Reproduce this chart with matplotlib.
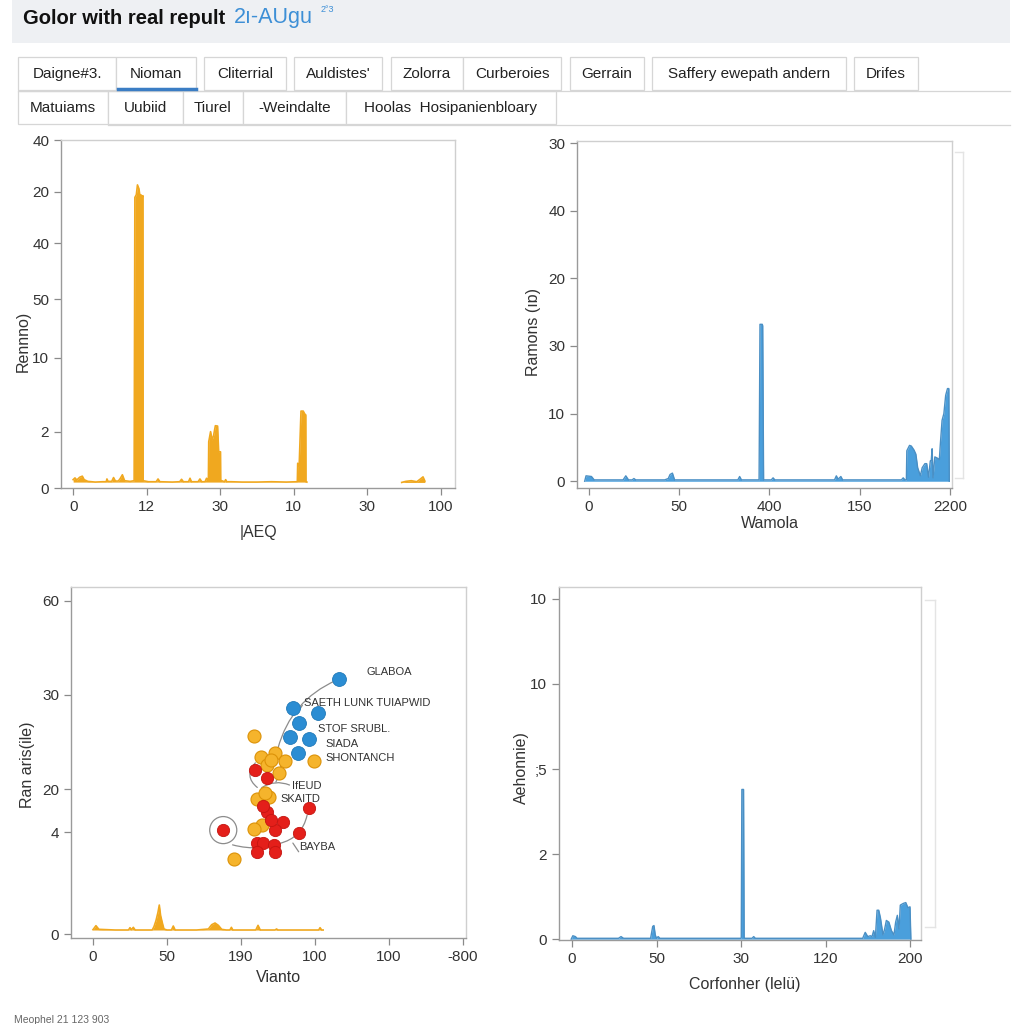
import matplotlib
matplotlib.use("Agg")
import matplotlib.pyplot as plt
from matplotlib.patches import Rectangle
from matplotlib.lines import Line2D

plt.rcParams['font.family'] = ['Liberation Sans', 'DejaVu Sans']

# ---------------- data ----------------
title_main = "Golor with real repult"
title_blue = "2ı-AUgu"
title_sup = "2°3"
tabs_row1 = ["Daigne#3.", "Nioman", "Cliterrial", "Auldistes'", "Zolorra",
             "Curberoies", "Gerrain", "Saffery ewepath andern", "Drifes"]
tabs_row2 = ["Matuiams", "Uubiid", "Tiurel", "-Weindalte", "Hoolas  Hosipanienbloary"]
footer = "Meophel 21 123 903"

# panel 1 (orange spectrum)
p1_xticklabels = ['0', '12', '30', '10', '30', '100']
p1_xtickpos = [0, 20, 40, 60, 80, 100]
p1_yticklabels = ['0', '2', '10', '50', '40', '20', '40']
p1_ytickpos = [0, 16.1, 37.4, 54.3, 70.4, 85.1, 100]
p1_x = [0.0, 0.5, 1.0, 1.8, 2.5, 3.0, 4.0, 6.0, 8.0, 9.0, 9.2, 9.5, 10.5, 11.0,
        11.5, 12.3, 12.8, 13.4, 14.0, 15.5, 16.6, 16.8, 17.2, 17.5, 17.9, 18.2,
        18.5, 18.8, 19.0, 19.05, 20.5, 22.6, 23.1, 23.6, 27.0, 29.0, 29.5, 30.0,
        31.4, 31.8, 32.2, 34.0, 34.5, 35.0, 35.9, 36.3, 36.8, 36.9, 37.4, 37.8,
        38.2, 38.7, 39.3, 39.6, 40.1, 40.15, 41.2, 41.5, 41.8, 43.0, 46.0, 50.0,
        54.0, 58.0, 61.0, 61.1, 61.5, 62.0, 62.6, 63.0, 63.3, 63.35, 63.6]
p1_y = [2.4, 2.9, 2.3, 3.1, 3.4, 2.4, 1.9, 1.7, 1.8, 1.8, 2.6, 1.9, 1.9, 3.0,
        2.0, 2.0, 2.7, 3.8, 2.1, 1.9, 2.1, 83.5, 84.3, 87.1, 86.0, 83.8,
        84.2, 83.6, 84.0, 2.1, 1.8, 1.8, 2.6, 1.8, 1.7, 1.8, 2.5, 1.8,
        1.8, 2.8, 1.8, 1.8, 2.6, 1.8, 1.8, 2.8, 2.2, 13.3, 16.2, 13.8,
        15.0, 17.9, 17.8, 10.4, 10.4, 2.2, 1.8, 2.4, 1.8, 1.8, 1.7, 1.7,
        1.8, 1.7, 1.8, 7.1, 6.3, 22.1, 22.1, 21.3, 21.0, 1.8, 1.7]
p1b_x = [89.4, 90.5, 92.0, 93.5, 94.5, 95.2, 95.7]
p1b_y = [1.6, 1.9, 2.1, 1.8, 2.6, 3.2, 2.0]

# panel 2 (blue spectrum)
p2_xticklabels = ['0', '50', '400', '150', '2200']
p2_yticklabels = ['0', '10', '30', '20', '40', '30']
p2_x = [-0.045, -0.03, 0.03, 0.06, 0.38, 0.41, 0.44, 0.48, 0.5, 0.52, 0.84,
        0.88, 0.9, 0.926, 0.95, 1.60, 1.65, 1.67, 1.69, 1.885, 1.895, 1.9,
        1.92, 1.925, 1.935, 2.02, 2.04, 2.06, 2.72, 2.74, 2.76, 2.79, 2.81,
        2.83, 3.46, 3.48, 3.50, 3.515, 3.52, 3.55, 3.57, 3.6, 3.62, 3.64, 3.67,
        3.69, 3.70, 3.72, 3.74, 3.76, 3.78, 3.79, 3.80, 3.81, 3.83, 3.86, 3.88,
        3.89, 3.91, 3.93, 3.95, 3.97, 3.985, 3.99]
p2_y = [0.0, 0.08, 0.07, 0.02, 0.02, 0.08, 0.02, 0.02, 0.04, 0.02, 0.02,
        0.04, 0.10, 0.12, 0.02, 0.02, 0.02, 0.07, 0.02, 0.02, 2.32, 2.32,
        2.32, 2.30, 0.02, 0.02, 0.05, 0.02, 0.02, 0.08, 0.03, 0.07, 0.02,
        0.02, 0.02, 0.05, 0.02, 0.02, 0.45, 0.53, 0.52, 0.46, 0.40, 0.20, 0.08,
        0.20, 0.22, 0.26, 0.26, 0.06, 0.30, 0.30, 0.48, 0.05, 0.36, 0.34, 0.32,
        0.53, 0.90, 1.00, 1.27, 1.37, 1.37, 0.0]

# panel 3 (scatter + orange spectrum)
p3_xticklabels = ['0', '50', '190', '100', '100', '-800']
p3_yticklabels = ['0', '4', '20', '30', '60']
p3_ytickpos = [0, 30.6, 43.5, 71.8, 100]
p3_spec_x = [0.0, 0.04, 0.08, 0.3, 0.48, 0.5, 0.52, 0.545, 0.57, 0.8, 0.824,
             0.851, 0.878, 0.896, 0.914, 0.941, 0.959, 1.0, 1.06, 1.085, 1.11,
             1.4, 1.559, 1.604, 1.649, 1.694, 1.739, 1.8, 1.85, 1.87, 1.89,
             2.2, 2.23, 2.26, 2.46, 2.48, 2.50, 3.05, 3.068, 3.09, 3.11]
p3_spec_y = [1.3, 2.5, 1.4, 1.2, 1.2, 1.9, 1.3, 2.0, 1.2, 1.2, 2.2,
             4.0, 6.5, 8.7, 5.5, 3.0, 1.5, 1.2, 1.2, 2.4, 1.2,
             1.2, 1.5, 2.8, 3.3, 2.6, 1.4, 1.2, 1.2, 2.0, 1.2,
             1.2, 2.6, 1.2, 1.2, 1.5, 1.2, 1.2, 1.9, 1.2, 1.2]
blue_x = [3.32, 2.70, 3.04, 2.78, 2.66, 2.92, 2.77]
blue_y = [76.5, 67.8, 66.3, 63.5, 59.1, 58.5, 54.3]
orange_x = [2.18, 2.27, 2.46, 2.59, 2.35, 2.52, 2.98, 2.41, 2.21, 2.38, 2.28,
            2.18, 1.91, 2.32]
orange_y = [59.6, 53.3, 54.3, 52.1, 50.8, 48.4, 52.1, 52.3, 40.4, 41.2, 32.7,
            31.4, 22.6, 42.2]
red_x = [2.19, 2.35, 2.35, 2.57, 2.46, 2.21, 2.30, 2.44, 2.21, 2.46, 1.76,
         2.78, 2.92, 2.41, 2.30]
red_y = [49.2, 46.8, 36.7, 33.7, 31.2, 27.2, 27.2, 26.7, 24.7, 24.7, 31.2,
         30.2, 37.9, 34.2, 38.5]
lbl_text = ["GLABOA", "SAETH LUNK TUIAPWID", "STOF SRUBL.", "SIADA",
            "SHONTANCH", "IfEUD", "SKAITD", "BAYBA"]
lbl_x = [3.69, 2.85, 3.04, 3.14, 3.14, 2.69, 2.53, 2.78]
lbl_y = [78.7, 69.4, 61.6, 57.1, 52.9, 44.4, 40.5, 26.1]

# panel 4 (blue spectrum)
p4_xticklabels = ['0', '50', '30', '120', '200']
p4_yticklabels = ['0', '2', ';5', '10', '10']
p4_x = [-0.01, 0.01, 0.04, 0.06, 0.55, 0.58, 0.61, 0.93, 0.955, 0.97, 0.985,
        1.0, 1.02, 1.04, 1.06, 2.0, 2.003, 2.01, 2.03, 2.037, 2.045, 2.13,
        2.15, 2.17, 3.44, 3.47, 3.50, 3.53, 3.55, 3.57,
        3.59, 3.61, 3.63, 3.65, 3.68, 3.70, 3.72, 3.75, 3.78, 3.81, 3.83, 3.85,
        3.87, 3.885, 3.92, 3.95, 3.975, 4.0, 4.01]
p4_y = [0.0, 0.04, 0.03, 0.01, 0.01, 0.03, 0.01, 0.01, 0.15, 0.16, 0.05,
        0.01, 0.03, 0.01, 0.01, 0.01, 0.02, 1.76, 1.76, 0.02, 0.01, 0.01,
        0.03, 0.01, 0.01, 0.08, 0.03, 0.04, 0.03, 0.10,
        0.02, 0.34, 0.34, 0.25, 0.05, 0.12, 0.22, 0.20, 0.10, 0.05, 0.20, 0.28,
        0.12, 0.40, 0.42, 0.43, 0.37, 0.38, 0.0]

# ---------------- figure ----------------
W = H = 1024
fig = plt.figure(figsize=(10.24, 10.24), dpi=100)
fig.patch.set_facecolor('white')


def fx(x):
    return x / W


def fy(y):
    return 1 - y / H


def rect(x0, y0, x1, y1, **kw):
    fig.patches.append(Rectangle((fx(x0), fy(y1)), fx(x1 - x0), (y1 - y0) / H,
                                 transform=fig.transFigure, **kw))


def hline(x0, x1, y, **kw):
    fig.lines.append(Line2D([fx(x0), fx(x1)], [fy(y), fy(y)],
                            transform=fig.transFigure, **kw))


def vline(x, y0, y1, **kw):
    fig.lines.append(Line2D([fx(x), fx(x)], [fy(y0), fy(y1)],
                            transform=fig.transFigure, **kw))


# header band
rect(12, 0, 1010, 43, facecolor='#eef0f3', edgecolor='none')
fig.text(fx(23), fy(18), title_main, fontsize=14.5, fontweight='bold',
         color='#111111', va='center', ha='left')
fig.text(fx(234), fy(18), title_blue, fontsize=15.5, color='#3d8fd6',
         va='center', ha='left')
fig.text(fx(321), fy(10), title_sup, fontsize=6.5, color='#3d8fd6',
         va='center', ha='left')

# tabs
row1_edges = [(18, 116), (116, 196), (204, 286), (294, 382), (391, 463),
              (463, 561), (570, 644), (652, 846), (854, 918)]
row2_edges = [(18, 108), (108, 183), (183, 243), (243, 346), (346, 556)]
for (a, b), t in zip(row1_edges, tabs_row1):
    rect(a, 57, b, 90, facecolor='white', edgecolor='#d6d6d6', linewidth=0.9)
    fig.text(fx((a + b) / 2), fy(74), t, fontsize=11, color='#222222',
             ha='center', va='center')
for (a, b), t in zip(row2_edges, tabs_row2):
    rect(a, 91, b, 124, facecolor='white', edgecolor='#d6d6d6', linewidth=0.9)
    fig.text(fx((a + b) / 2), fy(108), t, fontsize=11, color='#222222',
             ha='center', va='center')
hline(18, 1010, 90.5, color='#d6d6d6', linewidth=0.9)
hline(108, 1010, 124.5, color='#d6d6d6', linewidth=0.9)
hline(118, 196, 89, color='#3b7dc4', linewidth=2.5)

fig.text(fx(14), fy(1020), footer, fontsize=7.5, color='#666666',
         ha='left', va='center')


def make_ax(x0, x1, y0, y1):
    ax = fig.add_axes([fx(x0), fy(y1), fx(x1 - x0), (y1 - y0) / H])
    for s in ['left', 'bottom']:
        ax.spines[s].set_color('#9a9a9a')
        ax.spines[s].set_linewidth(1.0)
    for s in ['top', 'right']:
        ax.spines[s].set_color('#cfcfcf')
        ax.spines[s].set_linewidth(1.0)
    ax.tick_params(axis='both', colors='#8a8a8a', labelcolor='#333333',
                   labelsize=11, length=5, width=0.9, direction='out')
    return ax


# ---- panel 1
ax1 = make_ax(61, 455, 140, 488)
ax1.set_xlim(-3.3, 103.9)
ax1.set_ylim(0, 100)
c1 = '#f0a81f'
ax1.fill_between(p1_x, min(p1_y), p1_y, color=c1, linewidth=0)
ax1.plot(p1_x, p1_y, color=c1, linewidth=1.2)
ax1.fill_between(p1b_x, min(p1b_y), p1b_y, color=c1, linewidth=0)
ax1.plot(p1b_x, p1b_y, color=c1, linewidth=1.2)
ax1.set_xticks(p1_xtickpos)
ax1.set_xticklabels(p1_xticklabels)
ax1.set_yticks(p1_ytickpos)
ax1.set_yticklabels(p1_yticklabels)
ax1.set_xlabel("|AEQ", fontsize=11.5, color='#333333')
ax1.xaxis.set_label_coords(0.50, -0.106)
ax1.set_ylabel("Rennno)", fontsize=11.5, color='#333333')
ax1.yaxis.set_label_coords((31 - 61) / 394, (488 - 341) / 348)

# ---- panel 2
ax2 = make_ax(577, 952, 141, 488)
ax2.set_xlim(-0.13, 4.02)
ax2.set_ylim(-0.10, 5.03)
c2 = '#4a9fdc'
ax2.fill_between(p2_x, 0, p2_y, color=c2, linewidth=0)
ax2.plot(p2_x, p2_y, color='#4a8fc4', linewidth=1.0)
ax2.set_xticks(range(len(p2_xticklabels)))
ax2.set_xticklabels(p2_xticklabels)
ax2.set_yticks(range(len(p2_yticklabels)))
ax2.set_yticklabels(p2_yticklabels)
ax2.set_xlabel("Wamola", fontsize=11.5, color='#333333')
ax2.xaxis.set_label_coords((770 - 577) / 375, -0.081)
ax2.set_ylabel("Ramons (ıɒ)", fontsize=11.5, color='#333333')
ax2.yaxis.set_label_coords((541 - 577) / 375, (488 - 332) / 347)
vline(963, 152, 478, color='#e4e4e4', linewidth=1.0)
hline(955, 963, 152, color='#e4e4e4', linewidth=1.0)
hline(955, 963, 478, color='#e4e4e4', linewidth=1.0)

# ---- panel 3
ax3 = make_ax(71, 466, 587, 938)
ax3.set_xlim(-0.297, 5.04)
ax3.set_ylim(-1.2, 104.2)
c3 = '#f0a81f'
ax3.fill_between(p3_spec_x, min(p3_spec_y), p3_spec_y, color=c3, linewidth=0)
ax3.plot(p3_spec_x, p3_spec_y, color=c3, linewidth=1.2)

gray = '#8c8c8c'
leaders = [((3.32, 76.5), (2.49, 55.0), 0.25),
           ((2.69, 44.4), (2.25, 43.5), 0.3),
           ((2.25, 43.5), (2.22, 52.0), -0.6),
           ((1.85, 27.0), (2.30, 26.0), 0.1),
           ((2.48, 27.0), (2.90, 36.5), 0.35),
           ((2.80, 24.0), (2.68, 28.0), 0.0),
           ((2.49, 55.0), (2.45, 45.0), -0.3),
           ((2.85, 69.4), (2.75, 66.0), 0.0)]
for (a, b, r) in leaders:
    ax3.annotate("", xy=b, xytext=a,
                 arrowprops=dict(arrowstyle='-', color=gray, lw=0.9,
                                 connectionstyle=f"arc3,rad={r}"))
ax3.scatter([red_x[10]], [red_y[10]], s=380, facecolors='none',
            edgecolors=gray, linewidths=0.9, zorder=2)

ax3.scatter(orange_x, orange_y, s=88, color='#f5b42c', edgecolors='#dc9208',
            linewidths=0.8, zorder=3)
ax3.scatter(red_x, red_y, s=78, color='#e41f1a', edgecolors='#c41510',
            linewidths=0.6, zorder=4)
ax3.scatter(blue_x, blue_y, s=100, color='#2b8dd3', edgecolors='#2079b8',
            linewidths=0.6, zorder=5)
for t, x, y in zip(lbl_text, lbl_x, lbl_y):
    ax3.text(x, y, t, fontsize=8.0, color='#333333', ha='left', va='center',
             zorder=6)

ax3.set_xticks(range(len(p3_xticklabels)))
ax3.set_xticklabels(p3_xticklabels)
ax3.set_yticks(p3_ytickpos)
ax3.set_yticklabels(p3_yticklabels)
ax3.set_xlabel("Vianto", fontsize=11.5, color='#333333')
ax3.xaxis.set_label_coords((278 - 71) / 395, -0.091)
ax3.set_ylabel("Ran aris(ile)", fontsize=11.5, color='#333333')
ax3.yaxis.set_label_coords((35 - 71) / 395, (938 - 765) / 351)

# ---- panel 4
ax4 = make_ax(559, 921, 587, 940)
ax4.set_xlim(-0.154, 4.13)
ax4.set_ylim(-0.01, 4.14)
ax4.fill_between(p4_x, 0, p4_y, color=c2, linewidth=0)
ax4.plot(p4_x, p4_y, color='#4a8fc4', linewidth=1.0)
ax4.set_xticks(range(len(p4_xticklabels)))
ax4.set_xticklabels(p4_xticklabels)
ax4.set_yticks(range(len(p4_yticklabels)))
ax4.set_yticklabels(p4_yticklabels)
ax4.set_xlabel("Corfonher (lelü)", fontsize=11.5, color='#333333')
ax4.xaxis.set_label_coords((745 - 559) / 362, -0.105)
ax4.set_ylabel("Aehonnie)", fontsize=11.5, color='#333333')
ax4.yaxis.set_label_coords((529 - 559) / 362, (940 - 768) / 353)
vline(935, 600, 927, color='#e4e4e4', linewidth=1.0)
hline(925, 935, 600, color='#e4e4e4', linewidth=1.0)
hline(925, 935, 927, color='#e4e4e4', linewidth=1.0)

fig.savefig("out.png", dpi=100)
